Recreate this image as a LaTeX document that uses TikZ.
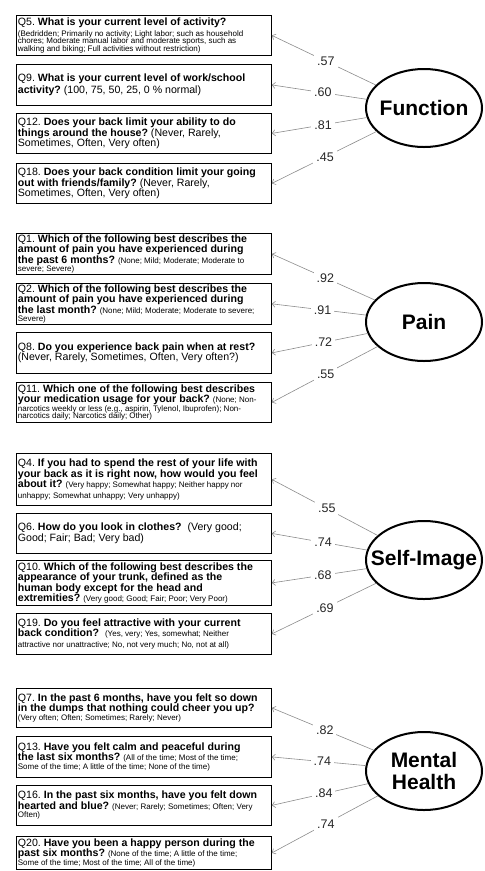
\documentclass[tikz,border=0pt]{standalone}
\usepackage{fontspec}
\setmainfont{Liberation Sans}
\usetikzlibrary{shapes.geometric,arrows.meta}
\newcommand\smtxt[1]{{\fontsize{8}{7.5}\selectfont #1}}
\newcommand\zw[1]{\makebox[0pt]{#1}}
\frenchspacing
\begin{document}
\begin{tikzpicture}[x=1pt,y=-1pt,
  qbox/.style={draw=black, line width=0.8pt, anchor=north west, align=flush left,
    text width=252pt, inner xsep=1.5pt, inner ysep=1pt,
    font=\fontsize{10.6}{10.5}\selectfont},
  factor/.style={ellipse, draw=black, line width=2pt, minimum width=116pt,
    minimum height=78pt, inner sep=0pt, align=center,
    font=\bfseries\fontsize{21}{22}\selectfont},
  conn/.style={draw=black!45, line width=0.6pt,
    -{Straight Barb[length=3pt,width=6pt]}},
  lbl/.style={fill=white, inner sep=3pt, text=black!85,
    font=\fontsize{12.5}{13}\selectfont}]
\useasboundingbox (0,0) rectangle (485,871);

% ---------- Function ----------
\node[qbox, minimum height=40pt] (q5) at (16,15)
 {Q5. \textbf{What is your current level of activity?}\\
  \smtxt{(Bedridden; Primarily no activity; Light labor; such as household}\\[-3pt]
  \smtxt{chores; Moderate manual labor and moderate sports, such as}\\[-3pt]
  \smtxt{walking and biking; Full activities without restriction)}};
\node[qbox, minimum height=41pt] (q9) at (16,64)
 {Q9. \textbf{What is your current level of work/school}\\[1.5pt]
  \textbf{activity?} (100, 75, 50, 25, 0 \% normal)};
\node[qbox, minimum height=40pt] (q12) at (16,113)
 {Q12. \textbf{Does your back limit your ability to do}\\
  \textbf{things around the house?} (Never, Rarely,\\
  Sometimes, Often, Very often)};
\node[qbox, minimum height=40pt] (q18) at (16,163)
 {Q18. \textbf{Does your back condition limit your going}\\
  \textbf{out with friends/family?} (Never, Rarely,\\
  Sometimes, Often, Very often)};
\node[factor] (fn) at (424,108) {\zw{Function}};

% ---------- Pain ----------
\node[qbox, minimum height=41pt] (q1) at (16,233)
 {Q1. \textbf{Which of the following best describes the}\\
  \textbf{amount of pain you have experienced during}\\
  \textbf{the past 6 months?} \smtxt{(None; Mild; Moderate; Moderate to}\\[-2pt]
  \smtxt{severe; Severe)}};
\node[qbox, minimum height=40pt] (q2) at (16,283)
 {Q2. \textbf{Which of the following best describes the}\\
  \textbf{amount of pain you have experienced during}\\
  \textbf{the last month?} \smtxt{(None; Mild; Moderate; Moderate to severe;}\\[-2pt]
  \smtxt{Severe)}};
\node[qbox, minimum height=41pt] (q8) at (16,332)
 {Q8. \textbf{Do you experience back pain when at rest?}\\
  (Never, Rarely, Sometimes, Often, Very often?)};
\node[qbox, minimum height=40pt] (q11) at (16,382)
 {Q11. \textbf{Which one of the following best describes}\\
  \textbf{your medication usage for your back?} \smtxt{(None; Non-}\\[-2pt]
  \smtxt{narcotics weekly or less (e.g., aspirin, Tylenol, Ibuprofen); Non-}\\[-3pt]
  \smtxt{narcotics daily; Narcotics daily; Other)}};
\node[factor] (pn) at (424,322) {\zw{Pain}};

% ---------- Self-Image ----------
\node[qbox, minimum height=52pt] (q4) at (16,453)
 {Q4. \textbf{If you had to spend the rest of your life with}\\
  \textbf{your back as it is right now, how would you feel}\\
  \textbf{about it?} \smtxt{(Very happy; Somewhat happy; Neither happy nor}\\[0pt]
  \smtxt{unhappy; Somewhat unhappy; Very unhappy)}};
\node[qbox, minimum height=40pt] (q6) at (16,513)
 {Q6. \textbf{How do you look in clothes?}\ \ (Very good;\\
  Good; Fair; Bad; Very bad)};
\node[qbox, minimum height=45pt] (q10) at (16,560)
 {Q10. \textbf{Which of the following best describes the}\\
  \textbf{appearance of your trunk, defined as the}\\
  \textbf{human body except for the head and}\\
  \textbf{extremities?} \smtxt{(Very good; Good; Fair; Poor; Very Poor)}};
\node[qbox, minimum height=41pt] (q19) at (16,613)
 {Q19. \textbf{Do you feel attractive with your current}\\
  \textbf{back condition?}\ \ \smtxt{(Yes, very; Yes, somewhat; Neither}\\[0pt]
  \smtxt{attractive nor unattractive; No, not very much; No, not at all)}};
\node[factor] (si) at (424,560) {\zw{Self-Image}};

% ---------- Mental Health ----------
\node[qbox, minimum height=39pt] (q7) at (16,688)
 {Q7. \textbf{In the past 6 months, have you felt so down}\\
  \textbf{in the dumps that nothing could cheer you up?}\\[-2pt]
  \smtxt{(Very often; Often; Sometimes; Rarely; Never)}};
\node[qbox, minimum height=41pt] (q13) at (16,736)
 {Q13. \textbf{Have you felt calm and peaceful during}\\
  \textbf{the last six months?} \smtxt{(All of the time; Most of the time;}\\[-2pt]
  \smtxt{Some of the time; A little of the time; None of the time)}};
\node[qbox, minimum height=40pt] (q16) at (16,785)
 {Q16. \textbf{In the past six months, have you felt down}\\
  \textbf{hearted and blue?} \smtxt{(Never; Rarely; Sometimes; Often; Very}\\[-2pt]
  \smtxt{Often)}};
\node[qbox, minimum height=33pt] (q20) at (16,836)
 {Q20. \textbf{Have you been a happy person during the}\\
  \textbf{past six months?} \smtxt{(None of the time; A little of the time;}\\[-2pt]
  \smtxt{Some of the time; Most of the time; All of the time)}};
\node[factor] (mh) at (424,771) {\zw{Mental}\\\zw{Health}};

% ---------- connectors ----------
\draw[conn] (fn) -- node[lbl,pos=.48] {.57} (q5.east);
\draw[conn] (fn) -- node[lbl,pos=.46] {.60} (q9.east);
\draw[conn] (fn) -- node[lbl,pos=.46] {.81} (q12.east);
\draw[conn] (fn) -- node[lbl,pos=.49] {.45} (q18.east);

\draw[conn] (pn) -- node[lbl,pos=.48] {.92} (q1.east);
\draw[conn] (pn) -- node[lbl,pos=.46] {.91} (q2.east);
\draw[conn] (pn) -- node[lbl,pos=.46] {.72} (q8.east);
\draw[conn] (pn) -- node[lbl,pos=.49] {.55} (q11.east);

\draw[conn] (si) -- node[lbl,pos=.48] {.55} (q4.east);
\draw[conn] (si) -- node[lbl,pos=.46] {.74} (q6.east);
\draw[conn] (si) -- node[lbl,pos=.46] {.68} (q10.east);
\draw[conn] (si) -- node[lbl,pos=.49] {.69} (q19.east);

\draw[conn] (mh) -- node[lbl,pos=.48] {.82} (q7.east);
\draw[conn] (mh) -- node[lbl,pos=.46] {.74} (q13.east);
\draw[conn] (mh) -- node[lbl,pos=.46] {.84} (q16.east);
\draw[conn] (mh) -- node[lbl,pos=.49] {.74} (q20.east);
\end{tikzpicture}
\end{document}
